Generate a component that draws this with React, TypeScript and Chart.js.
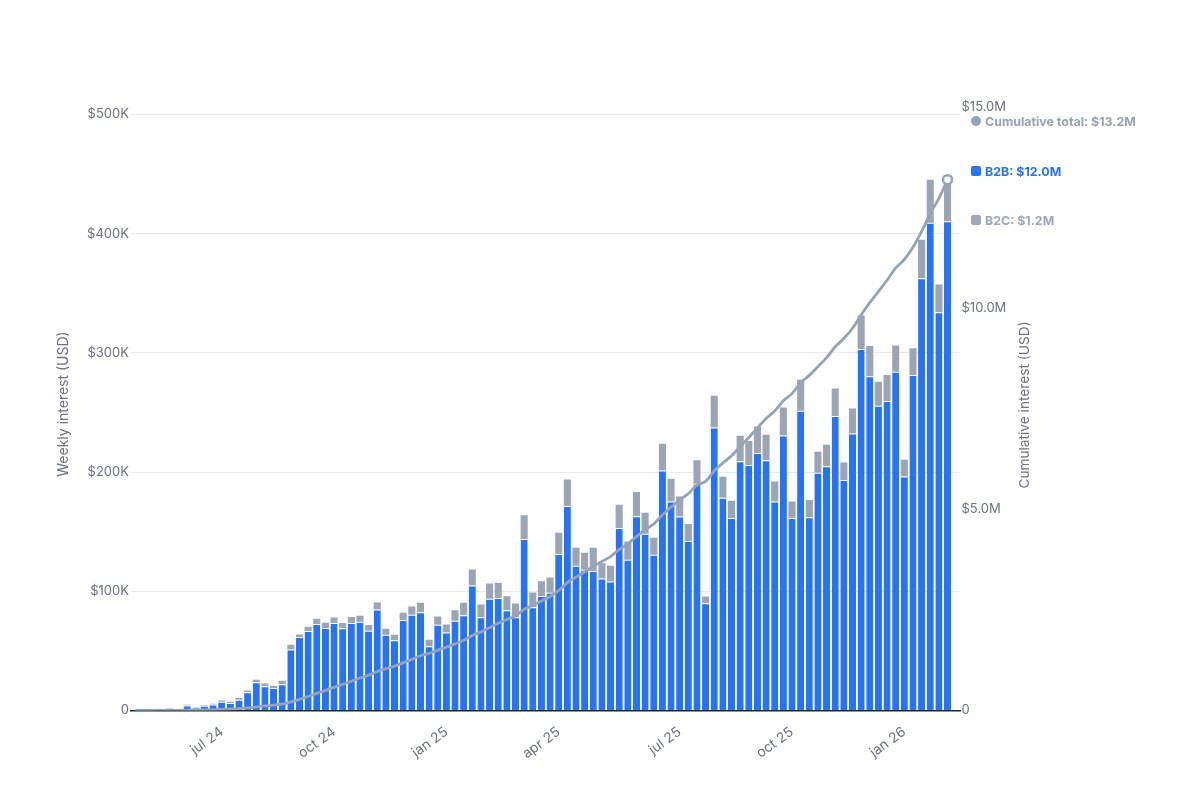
import { useEffect, useRef } from 'react';
import { Chart, registerables } from 'chart.js';

Chart.register(...registerables);

// weekly values in $K, cumulative in $K
const b2b = [
  0.1, 0.1, 0.3, 0.4, 1.5, 1.0, 4.2, 2.5, 3.9, 5.0, 7.3, 6.2, 9.0, 15.4, 23.8, 20.4,
  18.8, 22.1, 51.2, 61.6, 66.6, 72.5, 69.2, 73.4, 69.0, 73.4, 74.5, 67.0, 84.8, 63.6, 59.0, 76.0,
  80.3, 82.5, 54.0, 71.9, 65.4, 75.2, 80.0, 104.9, 78.3, 93.7, 94.3, 84.2, 78.3, 143.8, 86.7, 96.0,
  98.7, 131.2, 171.5, 121.4, 118.0, 117.0, 110.8, 108.2, 153.0, 126.4, 163.0, 148.2, 130.6, 201.4, 175.4, 162.8,
  142.1, 190.2, 90.0, 237.5, 178.5, 161.4, 209.0, 205.9, 216.0, 210.0, 175.4, 230.8, 161.4, 251.5, 162.2, 199.4,
  205.0, 247.0, 193.3, 232.4, 303.2, 280.5, 255.6, 259.6, 284.2, 196.3, 281.4, 362.7, 409.1, 334.0, 410.5,
];
const b2c = [
  0, 0.1, 0.1, 0.1, 0.3, 0.2, 0.6, 0.5, 0.6, 0.6, 1.1, 1.1, 1.4, 1.4, 2.0, 2.3,
  1.9, 2.8, 4.0, 2.2, 3.7, 4.5, 4.4, 4.7, 4.4, 5.0, 5.0, 4.7, 5.9, 5.0, 4.6, 6.0,
  7.0, 7.8, 5.3, 7.0, 6.8, 9.0, 10.3, 13.4, 10.6, 12.9, 12.8, 11.7, 11.5, 20.1, 12.3, 12.5,
  12.9, 17.9, 22.3, 15.1, 14.3, 19.5, 12.8, 13.2, 19.6, 15.4, 20.2, 17.7, 14.3, 22.4, 19.0, 16.8,
  14.3, 19.8, 5.7, 26.5, 17.5, 14.6, 21.5, 20.1, 22.3, 21.3, 16.8, 23.4, 14.0, 26.0, 14.3, 17.6,
  17.9, 23.2, 14.7, 21.0, 28.2, 25.2, 20.2, 21.8, 22.1, 14.0, 22.4, 32.3, 36.1, 23.4, 35.5,
];
const cumulative = [
  0.1, 0.3, 0.7, 1.2, 3, 4.2, 9, 12, 16.5, 22.1, 30.5, 37.8, 48.2, 65, 90.8, 113.5,
  134.2, 159.1, 214.3, 278.1, 348.4, 425.4, 499, 577, 650.5, 729, 808, 880, 971, 1039, 1103, 1185,
  1272, 1362, 1421, 1500, 1572, 1657, 1747, 1865, 1954, 2061, 2168, 2264, 2354, 2518, 2617, 2725,
  2837, 2986, 3180, 3316, 3449, 3585, 3709, 3830, 4003, 4145, 4328, 4494, 4639, 4863, 5057, 5237,
  5393, 5603, 5699, 5963, 6159, 6335, 6565, 6791, 7030, 7261, 7453, 7707, 7883, 8160, 8337, 8554,
  8777, 9047, 9255, 9508, 9840, 10145, 10421, 10703, 11009, 11219, 11523, 11918, 12363, 12740, 13205,
];

// one spare week after the last bar, the axis runs on a little past it
const WEEKS = 96;
const tickWeeks = [10, 23, 36, 49, 63, 76, 89];
const tickLabels = ['jul 24', 'oct 24', 'jan 25', 'apr 25', 'jul 25', 'oct 25', 'jan 26'];
const weeklyTicks = [0, 100, 200, 300, 400, 500];
const legendItems = [
  { label: 'Cumulative total: $13.2M', color: '#94a3b8', y: 121, round: true },
  { label: 'B2B: $12.0M', color: '#2673f7', y: 171, round: false },
  { label: 'B2C: $1.2M', color: '#9ca8ba', y: 220, round: false },
];

const categories = Array.from({ length: WEEKS }, (_, i) => {
  const at = tickWeeks.indexOf(i);
  return at >= 0 ? tickLabels[at] : '';
});

const FONT = 'Inter, sans-serif';
const TEXT = '#6b7280';

// both axis titles read bottom to top, which chart.js won't do on the right side
const axisTitles = {
  id: 'axisTitles',
  afterDraw(chart: any) {
    const { ctx } = chart;
    const draw = (text: string, x: number, y: number, size: number) => {
      ctx.save();
      ctx.translate(x, y);
      ctx.rotate(-Math.PI / 2);
      ctx.textAlign = 'center';
      ctx.textBaseline = 'middle';
      ctx.fillStyle = TEXT;
      ctx.font = `${size}px ${FONT}`;
      ctx.fillText(text, 0, 0);
      ctx.restore();
    };
    draw('Weekly interest (USD)', 64, 404, 14);
    draw('Cumulative interest (USD)', 1025, 405, 13.7);
  },
};

export default function App() {
  const canvasRef = useRef<HTMLCanvasElement>(null);

  useEffect(() => {
    if (!canvasRef.current) return;
    const last = cumulative.length - 1;

    const chart = new Chart(canvasRef.current, {
      type: 'bar',
      plugins: [axisTitles],
      data: {
        labels: categories,
        datasets: [
          {
            type: 'line',
            label: 'Cumulative',
            data: cumulative,
            yAxisID: 'yRight',
            order: 0,
            borderColor: '#94a3b8',
            borderWidth: 2.8,
            tension: 0.25,
            backgroundColor: '#ffffff',
            pointRadius: (c: any) => (c.dataIndex === last ? 4.5 : 0),
            pointBorderWidth: 2.5,
            pointBorderColor: '#94a3b8',
            pointBackgroundColor: '#ffffff',
          },
          {
            label: 'B2B',
            data: b2b,
            stack: 'weekly',
            yAxisID: 'y',
            order: 1,
            backgroundColor: '#2673f7',
            borderColor: '#ffffff',
            borderWidth: { top: 1, left: 0, right: 0, bottom: 0 },
            barPercentage: 0.82,
            categoryPercentage: 1,
          },
          {
            label: 'B2C',
            data: b2c,
            stack: 'weekly',
            yAxisID: 'y',
            order: 1,
            backgroundColor: '#9ca5b5',
            barPercentage: 0.82,
            categoryPercentage: 1,
          },
        ],
      },
      options: {
        responsive: false,
        animation: false,
        layout: { padding: { top: 107.5, left: 50, right: 100 } },
        plugins: { legend: { display: false }, tooltip: { enabled: false } },
        scales: {
          x: {
            stacked: true,
            grid: { display: false },
            border: { color: '#1f2937', width: 1.5 },
            afterFit: (s: any) => { s.height = 89.5; },
            ticks: {
              autoSkip: false,
              minRotation: 36,
              maxRotation: 36,
              padding: 5,
              color: TEXT,
              font: { family: FONT, size: 14 },
            },
          },
          y: {
            stacked: true,
            position: 'left',
            min: 0,
            max: 505.87,
            afterBuildTicks: (s: any) => { s.ticks = weeklyTicks.map(value => ({ value })); },
            afterFit: (s: any) => { s.width = 81; },
            border: { display: false },
            grid: { color: '#e8eaee', drawTicks: false },
            ticks: {
              padding: 2,
              color: TEXT,
              font: { family: FONT, size: 13 },
              callback: (v: any) => (v === 0 ? '0' : `$${v}K`),
            },
          },
          yRight: {
            position: 'right',
            min: 0,
            max: 15000,
            afterFit: (s: any) => { s.width = 139.5; },
            border: { display: false },
            grid: { display: false, drawTicks: false },
            ticks: {
              stepSize: 5000,
              padding: 1,
              color: TEXT,
              font: { family: FONT, size: 13 },
              callback: (v: any) => (v === 0 ? '0' : `$${(v / 1000).toFixed(1)}M`),
            },
          },
        },
      },
    });

    return () => {
      chart.destroy();
    };
  }, []);

  return (
    <div style={{ position: 'absolute', left: 0, top: 0, width: 1200, height: 800, background: '#fff', fontFamily: FONT }}>
      <canvas ref={canvasRef} width={1200} height={800} style={{ display: 'block' }} />
      {legendItems.map(item => (
        <div key={item.label} style={{ position: 'absolute', left: 971, top: item.y - 10, height: 20, display: 'flex', alignItems: 'center', whiteSpace: 'nowrap' }}>
          <span style={{ width: 10, height: 10, marginRight: 4, background: item.color, borderRadius: item.round ? 5 : 2 }} />
          <span style={{ color: item.color, fontSize: 12.4, fontWeight: 700 }}>{item.label}</span>
        </div>
      ))}
    </div>
  );
}
